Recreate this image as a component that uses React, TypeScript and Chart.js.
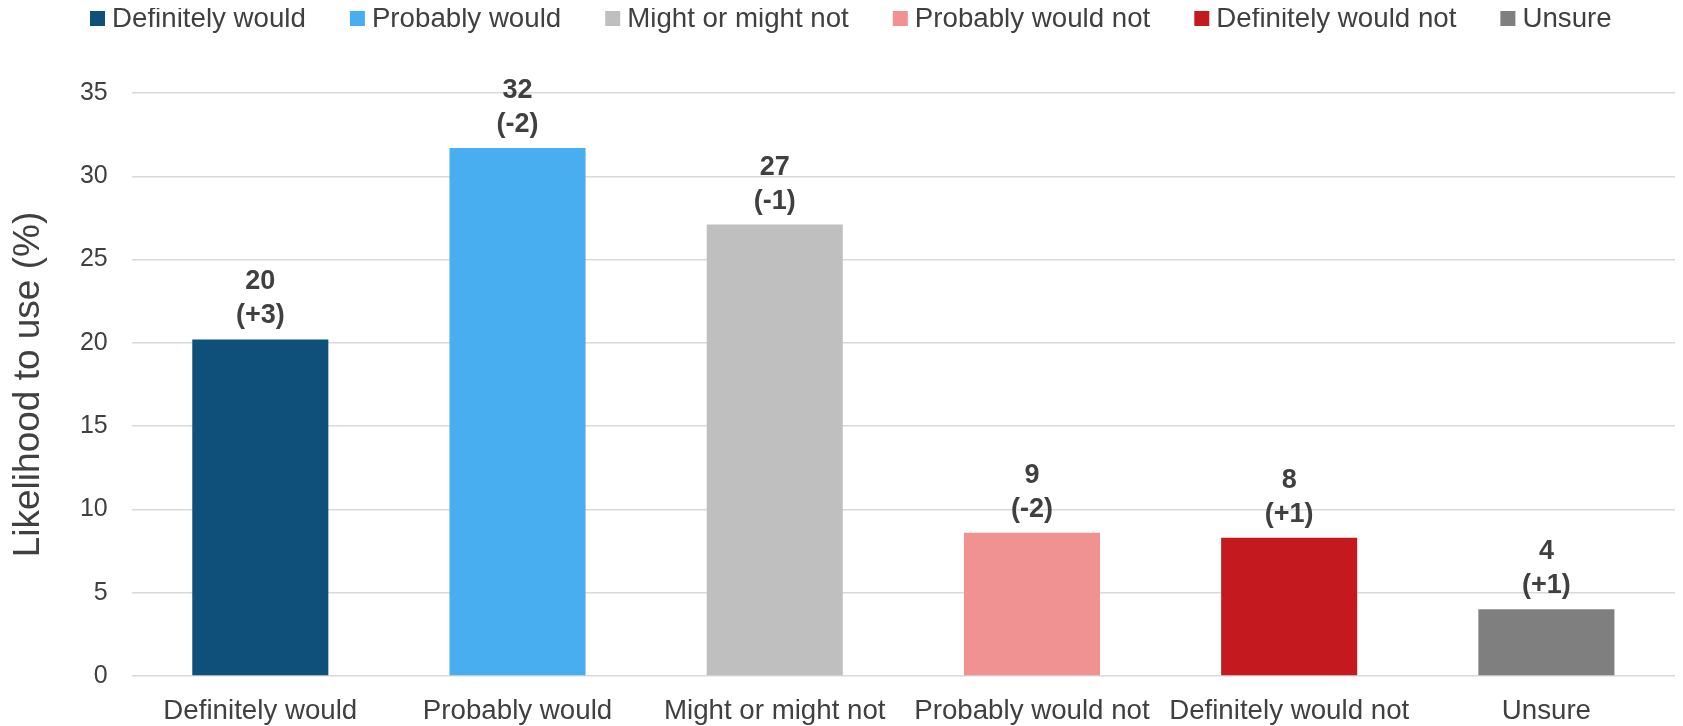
import React, { useEffect, useRef } from 'react';
import { Chart, registerables } from 'chart.js';

Chart.register(...registerables);

const categories = [
  'Definitely would',
  'Probably would',
  'Might or might not',
  'Probably would not',
  'Definitely would not',
  'Unsure',
];
const values = [20.2, 31.7, 27.1, 8.6, 8.3, 4.0];
const changes = [3, -2, -1, -2, 1, 1];
const barColors = ['#0E5079', '#48AEEF', '#BFBFBF', '#F09192', '#C41A1F', '#7F7F7F'];
const yMin = 0;
const yMax = 35;
const yStep = 5;
const yTitle = 'Likelihood to use (%)';

const FONT = '"Liberation Sans", Arial, sans-serif';
const TEXT = '#404040';

const legendPlugin = {
  id: 'customLegend',
  afterDraw(chart: any) {
    const ctx = chart.ctx as CanvasRenderingContext2D;
    const labels = chart.data.labels as string[];
    const colors = chart.data.datasets[0].backgroundColor as string[];
    ctx.save();
    ctx.font = `27.7px ${FONT}`;
    ctx.textBaseline = 'middle';
    ctx.textAlign = 'left';
    let x = 82;
    labels.forEach((lab, i) => {
      ctx.fillStyle = colors[i];
      ctx.fillRect(x, 3, 15, 15);
      ctx.fillStyle = TEXT;
      ctx.fillText(lab, x + 22, 11.5);
      x += 22 + ctx.measureText(lab).width + 44;
    });
    ctx.restore();
  },
};

const dataLabelPlugin = {
  id: 'barLabels',
  afterDatasetsDraw(chart: any) {
    const ctx = chart.ctx as CanvasRenderingContext2D;
    const meta = chart.getDatasetMeta(0);
    ctx.save();
    ctx.font = `bold 27px ${FONT}`;
    ctx.fillStyle = TEXT;
    ctx.textAlign = 'center';
    ctx.textBaseline = 'middle';
    meta.data.forEach((bar: any, i: number) => {
      const v = chart.data.datasets[0].data[i] as number;
      const c = changes[i];
      ctx.fillText(String(Math.round(v)), bar.x, bar.y - 57.5);
      ctx.fillText(`(${c > 0 ? '+' : ''}${c})`, bar.x, bar.y - 23.5);
    });
    ctx.restore();
  },
};

export default function App() {
  const ref = useRef<HTMLCanvasElement | null>(null);

  useEffect(() => {
    document.documentElement.style.overflow = 'hidden';
    if (!ref.current) return;
    const chart = new Chart(ref.current, {
      type: 'bar',
      data: {
        labels: categories,
        datasets: [
          {
            data: values,
            backgroundColor: barColors,
            borderWidth: 0,
            categoryPercentage: 1,
            barPercentage: 0.529,
          },
        ],
      },
      options: {
        animation: false,
        responsive: true,
        maintainAspectRatio: false,
        layout: { padding: { top: 85, left: 0, right: 0, bottom: 0 } },
        plugins: {
          legend: { display: false },
          tooltip: { enabled: false },
        },
        scales: {
          x: {
            grid: { display: false, drawTicks: false },
            border: { display: false },
            ticks: {
              color: TEXT,
              font: { family: FONT, size: 27.7 },
              padding: 19,
              maxRotation: 0,
              autoSkip: false,
            },
            afterFit: (scale: any) => {
              scale.height = 50;
            },
          },
          y: {
            min: yMin,
            max: yMax,
            grid: { color: '#D9D9D9', lineWidth: 1.5, drawTicks: false },
            border: { display: false },
            ticks: {
              stepSize: yStep,
              color: TEXT,
              font: { family: FONT, size: 25 },
              padding: 24,
            },
            title: {
              display: true,
              text: yTitle,
              color: TEXT,
              font: { family: FONT, size: 37, lineHeight: 1 },
              padding: { top: 2, bottom: 0 },
            },
            afterFit: (scale: any) => {
              scale.width = 123.7;
            },
          },
        },
      },
      plugins: [legendPlugin, dataLabelPlugin],
    });
    return () => chart.destroy();
  }, []);

  return (
    <div style={{ position: 'relative', width: '100%', height: '718px' }}>
      <canvas ref={ref} />
    </div>
  );
}
